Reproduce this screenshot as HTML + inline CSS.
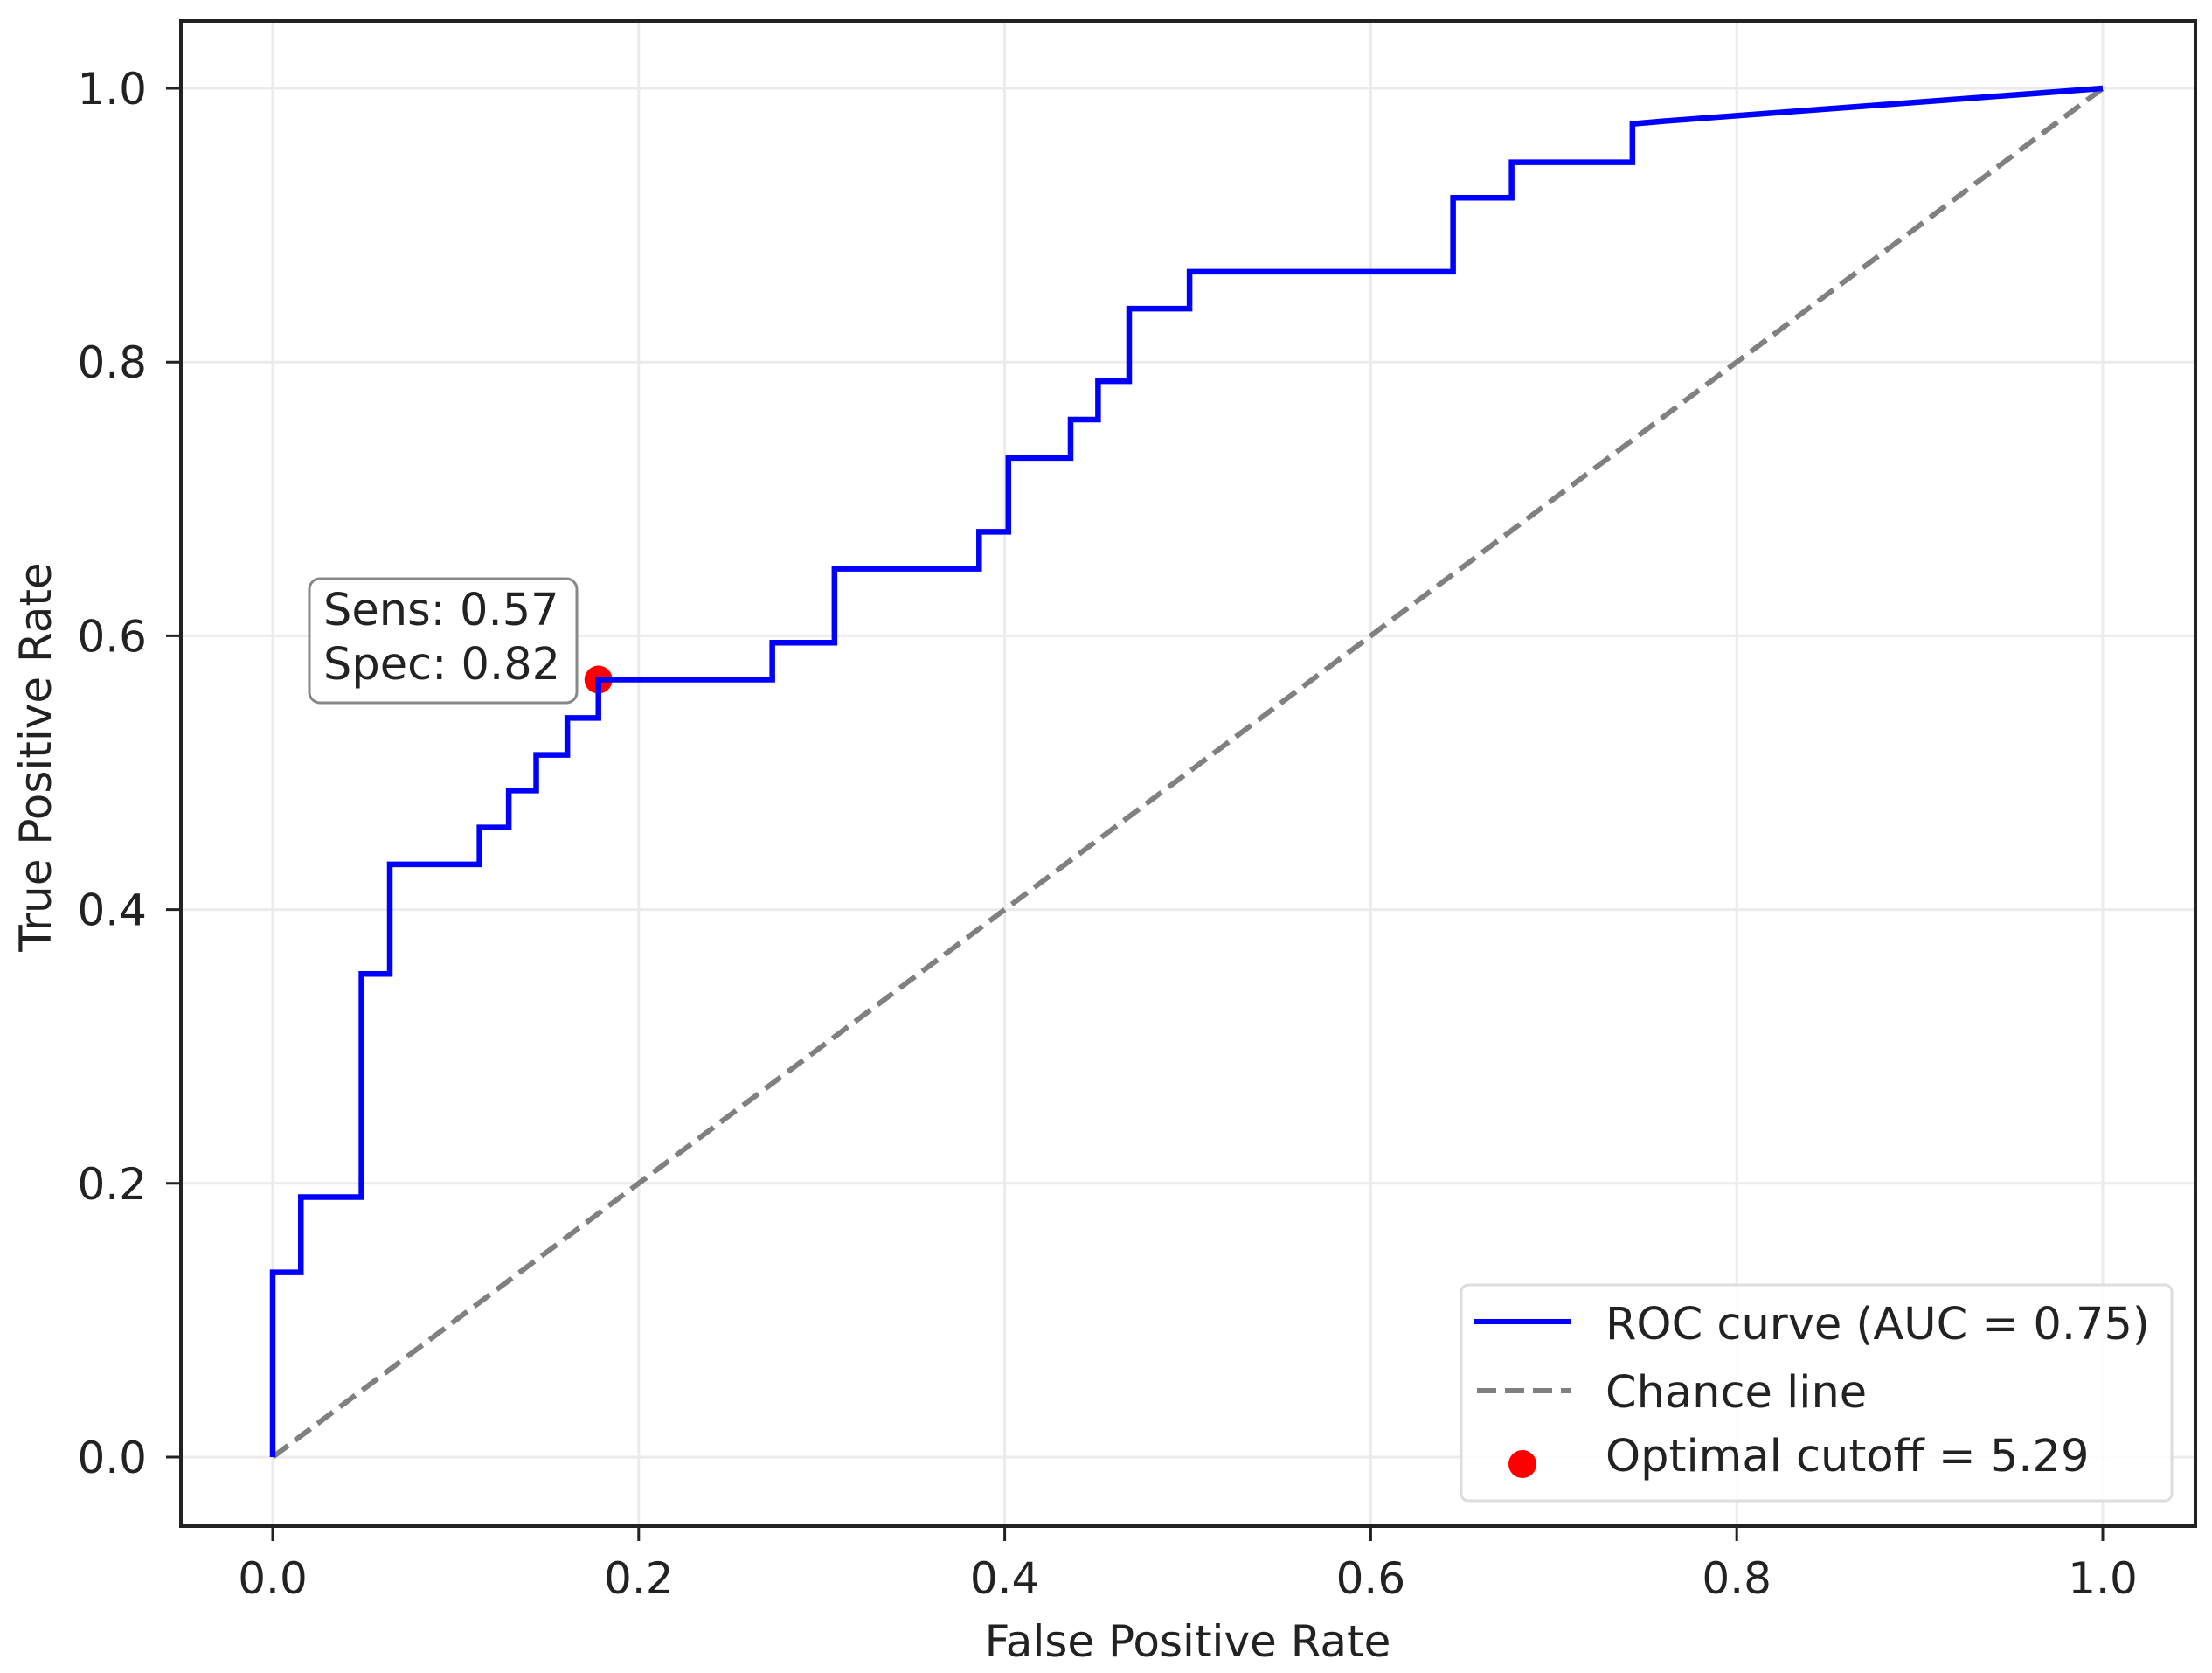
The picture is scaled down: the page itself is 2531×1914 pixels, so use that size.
<!DOCTYPE html>
<html><head><meta charset="utf-8"><style>
html,body{margin:0;padding:0;background:#fff;}
svg{display:block;font-family:"DejaVu Sans","Liberation Sans",sans-serif;}
</style></head><body>
<svg id="chart" width="2531" height="1914" viewBox="0 0 2531 1914" xmlns="http://www.w3.org/2000/svg">
<rect width="2531" height="1914" fill="#fff"/>
<g id="grid"></g>
<g id="ticks"></g>
<g id="series"></g>
<rect x="207" y="24" width="2305" height="1722" fill="none" stroke="#222" stroke-width="4"/>
<text x="1359" y="1895" font-size="50" text-anchor="middle" fill="#222">False Positive Rate</text>
<text transform="translate(58,866) rotate(-90)" font-size="50" text-anchor="middle" fill="#222">True Positive Rate</text>
<g>
<rect x="354" y="662" width="306" height="142" rx="12" fill="#fff" stroke="#888" stroke-width="3"/>
<text x="370" y="715" font-size="51" fill="#222">Sens: 0.57</text>
<text x="370" y="777" font-size="51" fill="#222">Spec: 0.82</text>
</g>
<g>
<rect x="1672" y="1470" width="813" height="247" rx="8" fill="#fff" fill-opacity="0.85" stroke="#ddd" stroke-width="3"/>
<line x1="1687" y1="1512" x2="1797" y2="1512" stroke="#0000ff" stroke-width="6"/>
<text x="1837" y="1532" font-size="51" fill="#222">ROC curve (AUC = 0.75)</text>
<line x1="1690" y1="1591" x2="1797" y2="1591" stroke="#808080" stroke-width="6" stroke-dasharray="22,10"/>
<text x="1837" y="1610" font-size="51" fill="#222">Chance line</text>
<circle cx="1742" cy="1675" r="16" fill="#ff0000"/>
<text x="1837" y="1683" font-size="51" fill="#222">Optimal cutoff = 5.29</text>
</g>
</svg>
<script>
const fprValues = [0, 0, 0.0154, 0.0154, 0.0485, 0.0485, 0.064, 0.064, 0.113, 0.113, 0.129, 0.129, 0.144, 0.144, 0.161, 0.161, 0.178, 0.178, 0.273, 0.273, 0.307, 0.307, 0.386, 0.386, 0.402, 0.402, 0.436, 0.436, 0.451, 0.451, 0.468, 0.468, 0.501, 0.501, 0.645, 0.645, 0.677, 0.677, 0.743, 0.743, 0.76, 0.85, 0.95, 1.0];
const tprValues = [0, 0.135, 0.135, 0.19, 0.19, 0.353, 0.353, 0.433, 0.433, 0.46, 0.46, 0.487, 0.487, 0.513, 0.513, 0.54, 0.54, 0.568, 0.568, 0.595, 0.595, 0.649, 0.649, 0.676, 0.676, 0.73, 0.73, 0.758, 0.758, 0.786, 0.786, 0.839, 0.839, 0.866, 0.866, 0.92, 0.92, 0.946, 0.946, 0.974, 0.976, 0.985, 0.995, 1.0];
const chanceX = [0, 1];
const chanceY = [0, 1];
const cutoffPoint = [0.178, 0.568];
const xTicks = [0, 0.2, 0.4, 0.6, 0.8, 1.0];
const yTicks = [0, 0.2, 0.4, 0.6, 0.8, 1.0];
const xTickLabels = ["0.0", "0.2", "0.4", "0.6", "0.8", "1.0"];
const yTickLabels = ["0.0", "0.2", "0.4", "0.6", "0.8", "1.0"];

const NS = "http://www.w3.org/2000/svg";
function sx(v){ return 312 + v * 2094; }
function sy(v){ return 1667 - v * 1566; }
function mk(tag, attrs, parent){
  const e = document.createElementNS(NS, tag);
  for (const k in attrs) e.setAttribute(k, attrs[k]);
  parent.appendChild(e);
  return e;
}
const grid = document.getElementById('grid');
const ticks = document.getElementById('ticks');
const series = document.getElementById('series');

xTicks.forEach((v, i) => {
  const g = mk('line', {x1: sx(v), x2: sx(v), y1: 24, y2: 1746, stroke: '#ebebeb', 'stroke-width': 3}, grid);
  
  
  const t = mk('line', {x1: sx(v), x2: sx(v), y1: 1746, y2: 1763, stroke: '#222', 'stroke-width': 3}, ticks);
  
  
  const l = mk('text', {x: sx(v), y: 1823, 'font-size': 50, 'text-anchor': 'middle', fill: '#222'}, ticks);
  l.textContent = xTickLabels[i];
  
  
});
yTicks.forEach((v, i) => {
  const g = mk('line', {x1: 207, x2: 2512, y1: sy(v), y2: sy(v), stroke: '#ebebeb', 'stroke-width': 3}, grid);
  
  
  const t = mk('line', {x1: 190, x2: 207, y1: sy(v), y2: sy(v), stroke: '#222', 'stroke-width': 3}, ticks);
  
  
  const l = mk('text', {x: 168, y: sy(v) + 18, 'font-size': 50, 'text-anchor': 'end', fill: '#222'}, ticks);
  l.textContent = yTickLabels[i];
  
  
});

const chance = mk('polyline', {points: chanceX.map((x, i) => sx(x) + ',' + sy(chanceY[i])).join(' '), fill: 'none', stroke: '#808080', 'stroke-width': 6, 'stroke-dasharray': '22,10'}, series);



const dot = mk('circle', {cx: sx(cutoffPoint[0]), cy: sy(cutoffPoint[1]), r: 16, fill: '#ff0000'}, series);



const roc = mk('polyline', {points: fprValues.map((x, i) => sx(x) + ',' + sy(tprValues[i])).join(' '), fill: 'none', stroke: '#0000ff', 'stroke-width': 6.5, 'stroke-linejoin': 'miter'}, series);


</script>
</body></html>
